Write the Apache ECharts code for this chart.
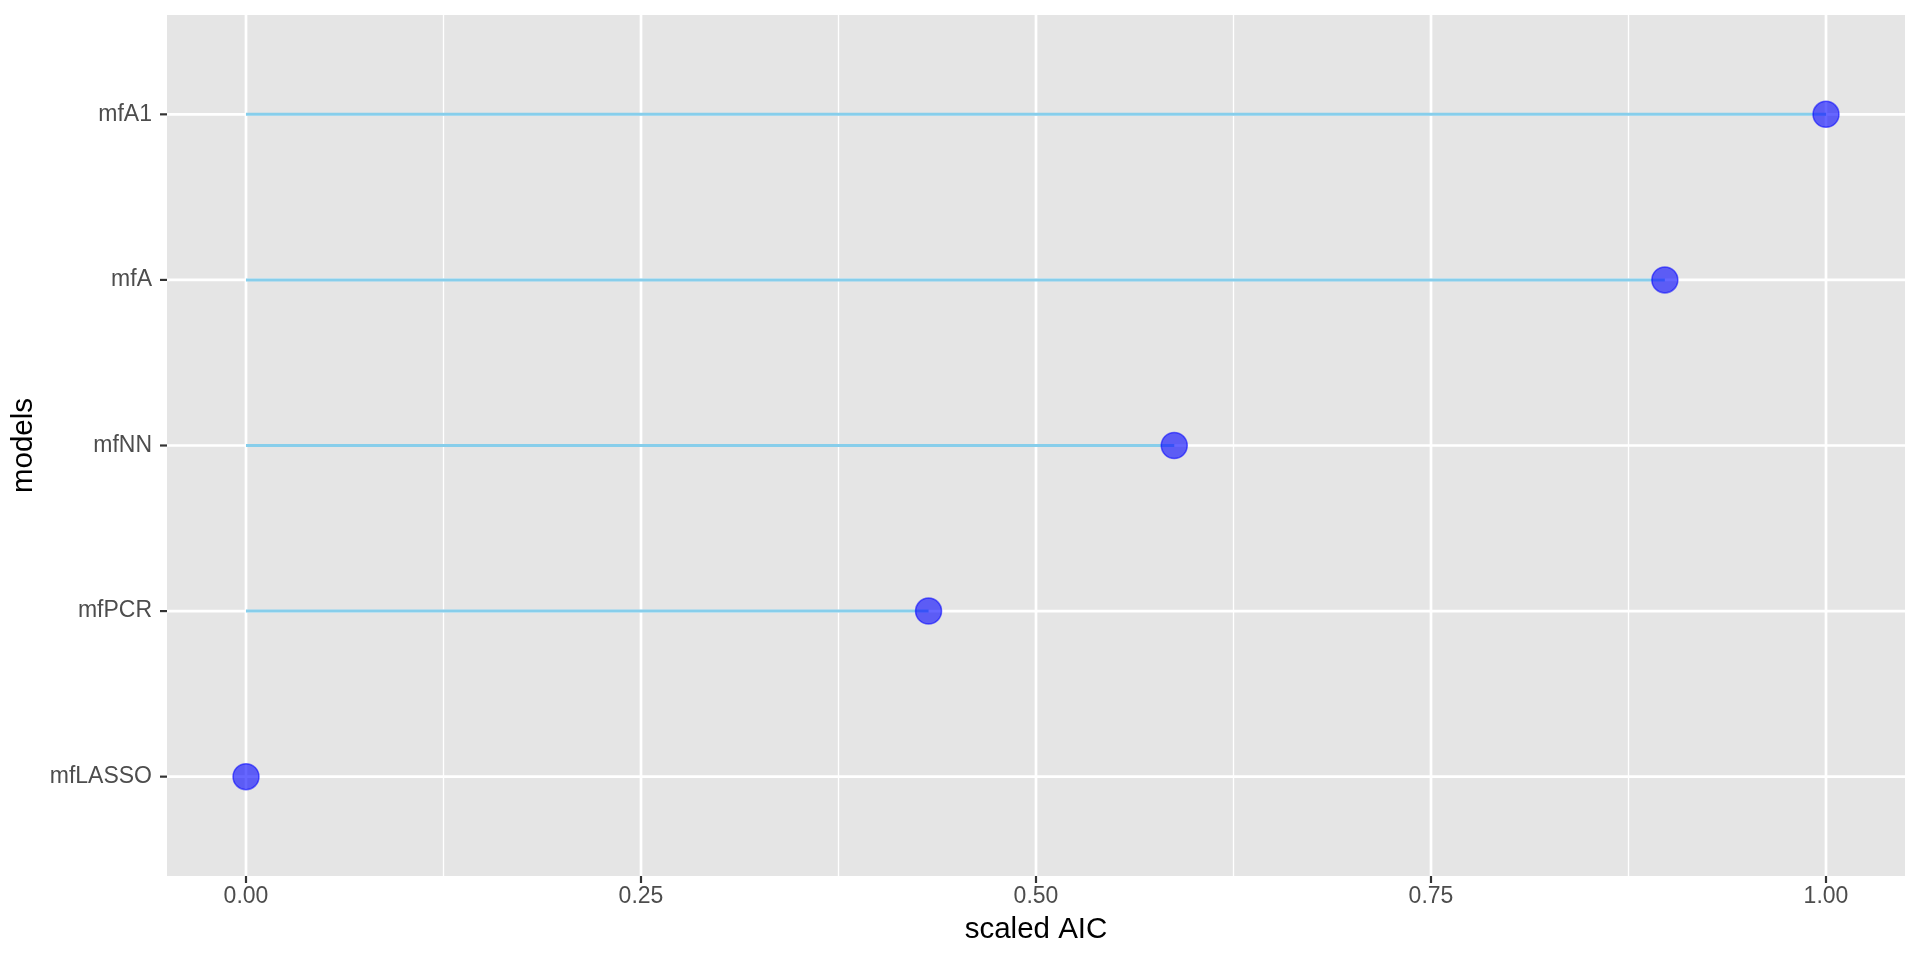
<!DOCTYPE html>
<html><head><meta charset="utf-8">
<script src="https://cdn.jsdelivr.net/npm/echarts@6/dist/echarts.min.js"></script>
<style>html,body{margin:0;padding:0;background:#fff}#c{width:1920px;height:960px}</style>
</head><body><div id="c"></div>
<script>
// ---- data ----
const models = ['mfLASSO', 'mfPCR', 'mfNN', 'mfA', 'mfA1'];
const scaledAIC = [0, 0.432, 0.5875, 0.898, 1];
const xTicks = [0, 0.25, 0.5, 0.75, 1];
const xTickLabels = ['0.00', '0.25', '0.50', '0.75', '1.00'];
const xMinorTicks = [0.125, 0.375, 0.625, 0.875];
const yTicks = [1, 2, 3, 4, 5];

const FONT = '"Liberation Sans", Arial, Helvetica, sans-serif';
const points = models.map((m, i) => [scaledAIC[i], yTicks[i]]);
const TICK_LEN = 7;

function vLines(width) {
  return function (params, api) {
    const cs = params.coordSys;
    const p = api.coord([api.value(0), api.value(1)]);
    return {type: 'line', shape: {x1: p[0], y1: cs.y, x2: p[0], y2: cs.y + cs.height},
      style: {stroke: '#ffffff', lineWidth: width}};
  };
}
function hLines(width) {
  return function (params, api) {
    const cs = params.coordSys;
    const p = api.coord([api.value(0), api.value(1)]);
    return {type: 'line', shape: {x1: cs.x, y1: p[1], x2: cs.x + cs.width, y2: p[1]},
      style: {stroke: '#ffffff', lineWidth: width}};
  };
}
function xTickMarks(params, api) {
  const cs = params.coordSys;
  const p = api.coord([api.value(0), api.value(1)]);
  const yb = cs.y + cs.height;
  return {type: 'line', shape: {x1: p[0], y1: yb, x2: p[0], y2: yb + TICK_LEN},
    style: {stroke: '#333333', lineWidth: 2.2}};
}
function yTickMarks(params, api) {
  const cs = params.coordSys;
  const p = api.coord([api.value(0), api.value(1)]);
  return {type: 'line', shape: {x1: cs.x - TICK_LEN, y1: p[1], x2: cs.x, y2: p[1]},
    style: {stroke: '#333333', lineWidth: 2.2}};
}

const chart = echarts.init(document.getElementById('c'), null, {renderer: 'canvas'});
chart.setOption({
  animation: false,
  backgroundColor: '#ffffff',
  grid: {left: 167, top: 15, right: 15, bottom: 84, show: true, backgroundColor: '#E5E5E5', borderWidth: 0},
  xAxis: {
    type: 'value', min: -0.05, max: 1.05,
    name: 'scaled AIC', nameLocation: 'middle', nameGap: 39,
    nameTextStyle: {fontFamily: FONT, fontSize: 29.5, color: '#000000'},
    axisLine: {show: false},
    axisTick: {show: false},
    axisLabel: {show: true, customValues: xTicks, margin: 9, fontFamily: FONT, fontSize: 23, color: '#4D4D4D',
      formatter: function (v) { const k = xTicks.findIndex(t => Math.abs(t - v) < 1e-9); return k >= 0 ? xTickLabels[k] : ''; }},
    splitLine: {show: false}
  },
  yAxis: {
    type: 'value', min: 0.4, max: 5.6,
    name: 'models', nameLocation: 'middle', nameGap: 124, nameRotate: 90,
    nameTextStyle: {fontFamily: FONT, fontSize: 29.5, color: '#000000'},
    axisLine: {show: false},
    axisTick: {show: false},
    axisLabel: {show: true, customValues: yTicks, margin: 15, fontFamily: FONT, fontSize: 23, color: '#4D4D4D',
      formatter: function (v) { const k = yTicks.indexOf(Math.round(v)); return k >= 0 ? models[k] : ''; }},
    splitLine: {show: false}
  },
  series: [
    {type: 'custom', silent: true, z: 1, renderItem: vLines(1.35), data: xMinorTicks.map(v => [v, 3])},
    {type: 'custom', silent: true, z: 1, renderItem: vLines(2.7), data: xTicks.map(v => [v, 3])},
    {type: 'custom', silent: true, z: 1, renderItem: hLines(2.7), data: yTicks.map(v => [0, v])},
    {type: 'custom', silent: true, z: 1, clip: false, renderItem: xTickMarks, data: xTicks.map(v => [v, 3])},
    {type: 'custom', silent: true, z: 1, clip: false, renderItem: yTickMarks, data: yTicks.map(v => [0, v])},
    {type: 'custom', silent: true, z: 2,
      renderItem: function (params, api) {
        const y = api.value(1);
        const p0 = api.coord([0, y]);
        const p1 = api.coord([api.value(0), y]);
        return {type: 'line', shape: {x1: p0[0], y1: p0[1], x2: p1[0], y2: p1[1]},
          style: {stroke: '#87CEEB', lineWidth: 3}};
      },
      data: points},
    {type: 'scatter', silent: true, z: 3, symbol: 'circle', symbolSize: 26,
      itemStyle: {color: 'rgba(0,0,255,0.6)', borderColor: 'rgba(0,0,255,0.55)', borderWidth: 1.5, opacity: 1},
      data: points}
  ]
});
</script>
</body></html>
